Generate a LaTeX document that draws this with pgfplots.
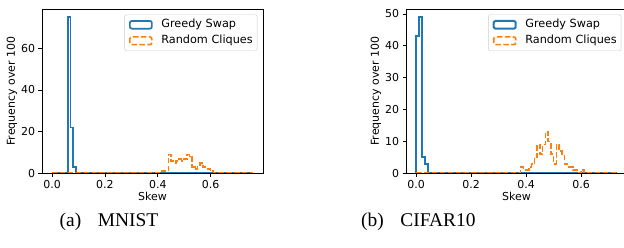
\documentclass[border=0pt]{standalone}
\usepackage{fontspec}
\setmainfont{DejaVu Sans}
\newfontfamily\capfont{Liberation Serif}
\usepackage{pgfplots}
\pgfplotsset{compat=1.18}
\definecolor{tabblue}{HTML}{1F77B4}
\definecolor{taborange}{HTML}{FF7F0E}
\pgfplotsset{
  histax/.style={
    scale only axis, width=221bp, height=164bp,
    axis on top, clip=false,
    anchor=south west,
    tick align=outside, xtick pos=bottom, ytick pos=left,
    major tick length=3.5bp,
    every tick/.style={black, line width=0.8bp},
    axis line style={line width=0.8bp},
    ticklabel style={font=\fontsize{11}{13}\selectfont},
    /pgf/number format/assume math mode=true,
    label style={font=\fontsize{11}{13}\selectfont},
    xlabel style={yshift=3bp},
    ylabel style={yshift=-3bp},
    xlabel=Skew, ylabel={Frequency over 100},
    xtick={0,0.2,0.4,0.6},
    xticklabel style={/pgf/number format/.cd, fixed, fixed zerofill, precision=1},
    ymin=0,
    legend cell align=left,
    legend style={at={(1,1)}, anchor=north east, xshift=-5.7bp, yshift=-5.3bp,
      draw=black!20, rounded corners=2bp, fill=white, fill opacity=0.8, text opacity=1,
      inner xsep=4.4bp, inner ysep=4.75bp, font=\fontsize{11.3}{13}\selectfont,
      nodes={inner sep=0pt, text height=8bp, text depth=2.5bp},
      row sep=5.5bp, column sep=8.6bp},
    legend image code/.code={\draw[#1] (0bp,-3.85bp) rectangle (22bp,3.85bp);},
  },
  blueh/.style={tabblue, line width=1.7bp, const plot},
  orangeh/.style={taborange, line width=1.6bp, const plot, dash pattern=on 5.5bp off 2.4bp},
}
\begin{document}
\begin{tikzpicture}
\useasboundingbox (0,0) rectangle (624bp,248bp);
\begin{axis}[histax, at={(42bp,74.7bp)}, xmin=-0.038, xmax=0.798, ymax=78.75, ytick={0,20,40,60}]
\addplot[blueh] coordinates {(0,0)(0.06,75)(0.07,22)(0.08,3)(0.09,0)(0.76,0)};
\addlegendentry{Greedy Swap}
\addplot[orangeh] coordinates {(0,0)(0.41,1)(0.44,9)(0.45,6)(0.46,5)(0.47,6)(0.48,7)(0.49,6)(0.50,7)(0.51,9)(0.52,8)(0.53,3)(0.54,2)(0.55,4)(0.56,5)(0.57,3)(0.59,2)(0.60,1)(0.61,0)(0.76,0)};
\addlegendentry{Random Cliques}
\end{axis}
\begin{axis}[histax, at={(406bp,74.7bp)}, xmin=-0.0365, xmax=0.767, ymax=51.45, ytick={0,10,20,30,40,50}]
\addplot[blueh, line width=2bp] coordinates {(0,0)(0,43)(0.0105,49)(0.021,5)(0.0315,3)(0.042,0)(0.73,0)};
\addlegendentry{Greedy Swap}
\addplot[orangeh] coordinates {(0,0)(0.38,2)(0.39,1)(0.41,2)(0.42,3)(0.43,5)(0.44,9)(0.45,6)(0.46,9)(0.47,13)(0.48,10)(0.49,6)(0.50,3)(0.51,9)(0.52,7)(0.53,6)(0.54,3)(0.55,2)(0.56,2)(0.57,1)(0.59,0)(0.60,1)(0.61,0)(0.73,0)};
\addlegendentry{Random Cliques}
\end{axis}
\node[anchor=base, font=\capfont\fontsize{19.5}{22}\selectfont, inner sep=0pt] at (109bp,21.3bp) {(a)\hspace{0.85em}MNIST};
\node[anchor=base, font=\capfont\fontsize{19.5}{22}\selectfont, inner sep=0pt] at (418.4bp,21.3bp) {(b)\hspace{0.85em}CIFAR10};
\end{tikzpicture}
\end{document}
